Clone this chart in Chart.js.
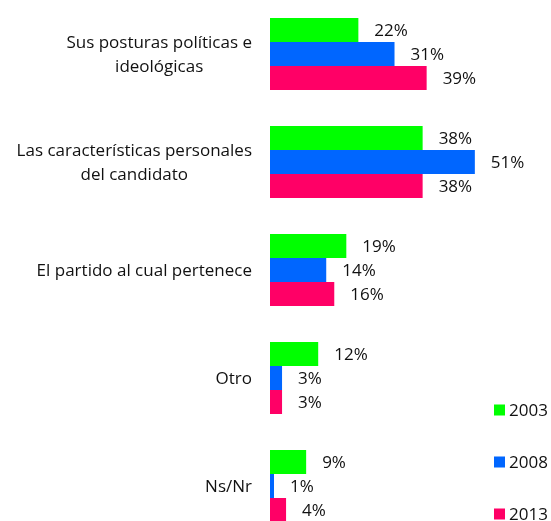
<!DOCTYPE html>
<html>
<head>
<meta charset="utf-8">
<script src="https://cdn.jsdelivr.net/npm/chart.js@4/dist/chart.umd.min.js"></script>
<style>
  html, body { margin: 0; padding: 0; background: #fff; overflow: hidden; }
  #wrap { width: 551px; height: 540px; }
</style>
</head>
<body>
<div id="wrap"><canvas id="chart" width="551" height="540"></canvas></div>
<script>
"use strict";

// categorias (lineas separadas)
const categories = [
    ['Sus posturas políticas e', 'ideológicas'],
    ['Las características personales', 'del candidato'],
    ['El partido al cual pertenece'],
    ['Otro'],
    ['Ns/Nr']
];

const years = ['2003', '2008', '2013'];
const values2003 = [22, 38, 19, 12, 9];
const values2008 = [31, 51, 14, 3, 1];
const values2013 = [39, 38, 16, 3, 4];
const colors = ['#00ff00', '#0066ff', '#ff0066'];

const FONT = '17px "Open Sans", "Liberation Sans", sans-serif';

// etiquetas de valor al final de cada barra
const valueLabels = {
    id: 'valueLabels',
    afterDatasetsDraw(chart) {
        const ctx = chart.ctx;
        ctx.save();
        ctx.font = FONT;
        ctx.fillStyle = '#111';
        ctx.textAlign = 'left';
        ctx.textBaseline = 'middle';
        chart.data.datasets.forEach((ds, i) => {
            chart.getDatasetMeta(i).data.forEach((bar, j) => {
                ctx.fillText(ds.data[j] + '%', bar.x + 16, bar.y + 1);
            });
        });
        ctx.restore();
    }
};

// nombres de categoria: bloque alineado a la derecha, lineas centradas
const catLabels = {
    id: 'catLabels',
    afterDraw(chart) {
        const ctx = chart.ctx;
        const yScale = chart.scales.y;
        const rightEdge = 252;
        const lineH = 24;
        ctx.save();
        ctx.font = FONT;
        ctx.fillStyle = '#111';
        ctx.textAlign = 'center';
        ctx.textBaseline = 'middle';
        categories.forEach((lines, i) => {
            const y = yScale.getPixelForValue(i) + 1;
            const w = Math.max(...lines.map(l => ctx.measureText(l).width));
            const cx = rightEdge - w / 2;
            const y0 = y - (lines.length - 1) * lineH / 2;
            lines.forEach((l, k) => ctx.fillText(l, cx, y0 + k * lineH));
        });
        ctx.restore();
    }
};

// leyenda vertical abajo a la derecha
const sideLegend = {
    id: 'sideLegend',
    afterDraw(chart) {
        const ctx = chart.ctx;
        const boxX = 494, box = 11, step = 52, firstY = 410;
        ctx.save();
        ctx.font = FONT;
        ctx.textAlign = 'left';
        ctx.textBaseline = 'middle';
        chart.data.datasets.forEach((ds, i) => {
            const y = firstY + i * step;
            ctx.fillStyle = ds.backgroundColor;
            ctx.fillRect(boxX, y - box / 2, box, box);
            ctx.fillStyle = '#111';
            ctx.fillText(ds.label, boxX + 15, y + 1);
        });
        ctx.restore();
    }
};

new Chart(document.getElementById('chart').getContext('2d'), {
    type: 'bar',
    data: {
        labels: categories,
        datasets: [
            { label: years[0], data: values2003, backgroundColor: colors[0] },
            { label: years[1], data: values2008, backgroundColor: colors[1] },
            { label: years[2], data: values2013, backgroundColor: colors[2] }
        ]
    },
    options: {
        indexAxis: 'y',
        responsive: false,
        animation: false,
        layout: { padding: { left: 270, right: 40, top: 0, bottom: 0 } },
        datasets: {
            bar: { categoryPercentage: 72 / 108, barPercentage: 1, borderWidth: 0 }
        },
        scales: {
            x: { display: false, min: 0, max: 60 },
            y: { display: false }
        },
        plugins: {
            legend: { display: false },
            tooltip: { enabled: false }
        }
    },
    plugins: [valueLabels, catLabels, sideLegend]
});
</script>
</body>
</html>
